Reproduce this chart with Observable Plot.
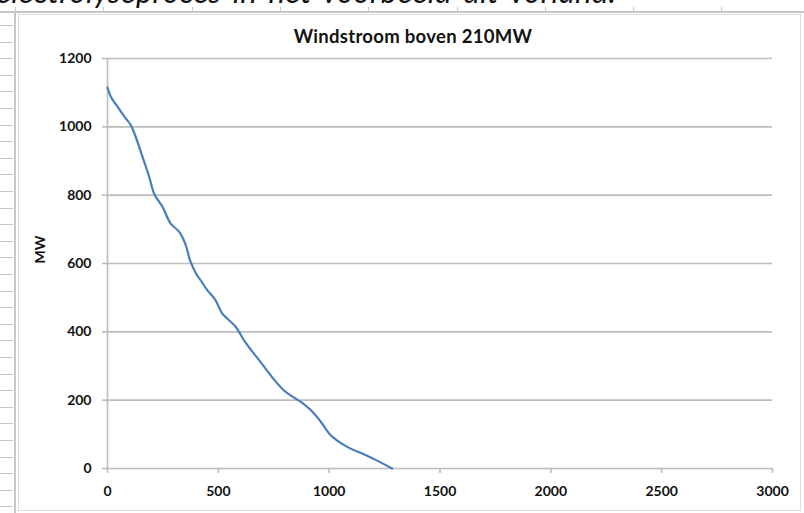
<!DOCTYPE html>
<html>
<head>
<meta charset="utf-8">
<script src="https://cdn.jsdelivr.net/npm/d3@7"></script>
<script src="https://cdn.jsdelivr.net/npm/@observablehq/plot@0.6"></script>
<style>
  html, body { margin: 0; padding: 0; background: #fff; }
  #wrap { position: relative; width: 804px; height: 513px; overflow: hidden; background: #fff; }
  #wrap svg { position: absolute; left: 0; top: 0; }
  .deco { position: absolute; background: #c6c6c6; }
  #doctext { position: absolute; left: -4px; top: -24px; font-family: Lato, "Open Sans", sans-serif; font-style: italic; font-size: 31px; line-height: 31px; word-spacing: 4px; letter-spacing: 0.3px; color: #111; white-space: nowrap; }
  #title { position: absolute; left: 0; width: 826px; top: 25px; text-align: center; font-family: Lato, "Open Sans", sans-serif; font-weight: bold; font-size: 18.5px; letter-spacing: 0.3px; color: #111; }
  #frame { position: absolute; left: 18px; top: 14px; width: 781px; height: 495px; border: 1px solid #dcdcdc; }
</style>
</head>
<body>
<div id="wrap">
  <div id="frame"></div>
  <div id="doctext">electrolyseproces in het voorbeeld uit vorland.</div>
  <div id="title">Windstroom boven 210MW</div>
</div>
<script>
// Data: duration curve of wind power above 210 MW
const hours = [0, 15, 45, 82, 105, 127, 158, 188, 210, 248, 285, 323, 353, 372, 400, 420, 450, 487, 517, 545, 578, 615, 650, 690, 742, 795, 840, 872, 917, 962, 1006, 1051, 1104, 1156, 1217, 1284];
const mw    = [1115, 1088, 1059, 1025, 1005, 971, 912, 854, 805, 766, 717, 693, 654, 610, 570, 551, 522, 493, 454, 436, 415, 376, 345, 312, 268, 229, 208, 195, 171, 137, 98, 75, 56, 42, 23, 0];
const yTicks = [0, 200, 400, 600, 800, 1000, 1200];
const xTicks = [0, 500, 1000, 1500, 2000, 2500, 3000];
const yLabel = "MW";

const data = hours.map((h, i) => ({x: h, y: mw[i]}));
const grid = "#bdbdbd";
const fmt = d => String(d);

const chart = Plot.plot({
  width: 804,
  height: 513,
  marginLeft: 107,
  marginRight: 32,
  marginTop: 58,
  marginBottom: 45,
  style: {background: "transparent", fontFamily: "Lato, 'Open Sans', sans-serif", fontSize: "14px", fontWeight: "bold", color: "#111"},
  x: {domain: [0, 3000], ticks: xTicks},
  y: {domain: [0, 1200], ticks: yTicks},
  marks: [
    Plot.gridY(yTicks, {stroke: grid, strokeOpacity: 1, strokeWidth: 1.6}),
    Plot.ruleX([0], {stroke: grid, strokeWidth: 1.6}),
    Plot.axisY(yTicks, {tickSize: 5, tickPadding: 11, tickFormat: fmt, stroke: grid, strokeOpacity: 1, strokeWidth: 1.6, label: null}),
    Plot.axisX(xTicks, {tickSize: 5, tickPadding: 13, tickFormat: fmt, stroke: grid, strokeOpacity: 1, strokeWidth: 1.6, label: null}),
    Plot.text([yLabel], {frameAnchor: "left", dx: -67, rotate: -90, fontSize: 14, fontWeight: "bold", fill: "#111"}),
    Plot.line(data, {x: "x", y: "y", stroke: "#4a7ebb", strokeWidth: 2.2, curve: "catmull-rom"})
  ]
});
const wrap = document.getElementById("wrap");
wrap.appendChild(chart);

// document ruler decorations
function deco(l, t, w, h) {
  const d = document.createElement("div");
  d.className = "deco";
  d.style.left = l + "px"; d.style.top = t + "px";
  d.style.width = w + "px"; d.style.height = h + "px";
  wrap.appendChild(d);
}
deco(0, 11, 804, 2);
for (let x = 15; x < 804; x += 88.3) deco(Math.round(x), 7, 1, 5);
deco(14, 11, 2, 502);
for (let y = 25; y < 513; y += 16.6) deco(0, Math.round(y), 13, 1);
</script>
</body>
</html>
